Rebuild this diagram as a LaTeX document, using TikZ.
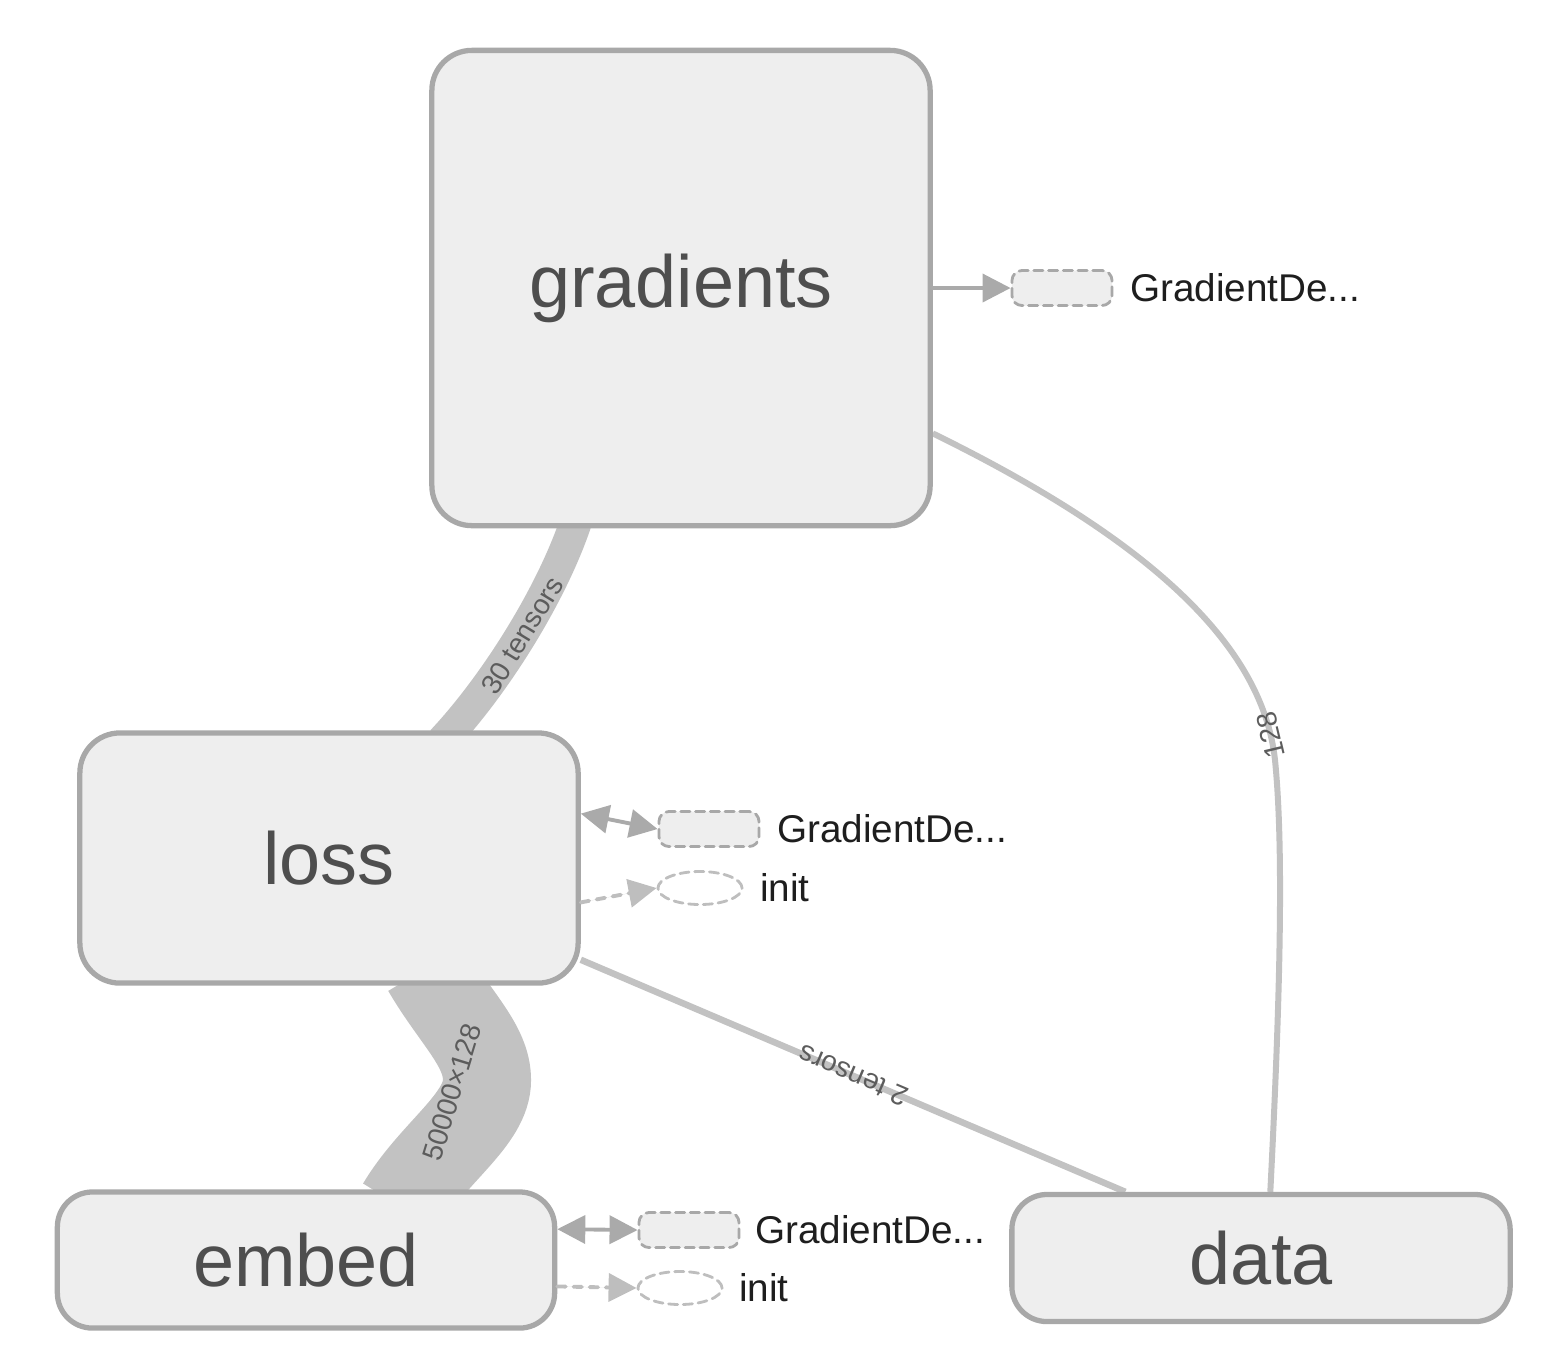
\documentclass[tikz,border=0pt]{standalone}
\usepackage{fontspec}
\setmainfont{Liberation Sans}
\usetikzlibrary{positioning,arrows.meta,backgrounds,shapes.geometric}

\definecolor{boxfill}{RGB}{238,238,238}
\definecolor{boxline}{RGB}{168,168,168}
\definecolor{flowgray}{RGB}{194,194,194}
\definecolor{tipgray}{RGB}{170,170,170}
\definecolor{initgray}{RGB}{190,190,190}
\definecolor{textgray}{RGB}{78,78,78}
\definecolor{edgetext}{RGB}{92,92,92}
\definecolor{auxtext}{RGB}{30,30,30}

\tikzset{
  group/.style={draw=boxline, fill=boxfill, line width=1.5pt, rounded corners=0.4cm,
    inner sep=0pt, text=textgray, font=\fontsize{21}{24}\selectfont},
  aux/.style={draw=boxline, fill=boxfill, dash pattern=on 2.6pt off 1.6pt, line width=0.8pt,
    rounded corners=0.1cm, minimum width=1cm, minimum height=0.35cm, inner sep=0pt},
  auxinit/.style={ellipse, draw=initgray, dash pattern=on 2.6pt off 1.6pt, line width=0.8pt,
    minimum width=0.84cm, minimum height=0.33cm, inner sep=0pt},
  auxlabel/.style={inner sep=0pt, text=auxtext, font=\fontsize{11}{13}\selectfont},
  flow/.style={draw=flowgray, line cap=butt},
  edgelabel/.style={inner sep=0pt, text=edgetext, font=\fontsize{8}{9}\selectfont},
  ctrl/.style={draw=tipgray, fill=tipgray, line width=1.1pt},
  ctrlinit/.style={draw=initgray, fill=initgray, line width=1.1pt, dash pattern=on 2.4pt off 2.2pt, ->}
}

\begin{document}
\begin{tikzpicture}[x=0.01cm, y=-0.01cm, line cap=round, line join=round,
  >={Triangle[length=0.28cm,width=0.28cm]}]
\useasboundingbox (0,0) rectangle (1542,1350);

% группы графа
\node[group, minimum width=4.98cm, minimum height=4.75cm] (gradients) at (681,288) {gradients};
\node[group, minimum width=4.98cm, minimum height=2.5cm] (loss) at (329,858) {loss};
\node[group, minimum width=4.97cm, minimum height=1.36cm, rounded corners=0.35cm] (embed) at (306,1260) {embed};
\node[group, minimum width=4.98cm, minimum height=1.27cm, rounded corners=0.35cm] (data) at (1261,1258) {data};

% вспомогательные узлы справа
\node[aux] (gdGrad) at (1062,288) {};
\node[auxlabel, right=0.16cm of gdGrad] (gdGradText) {GradientDe...};
\node[aux] (gdLoss) at (709,829) {};
\node[auxlabel, right=0.16cm of gdLoss] (gdLossText) {GradientDe...};
\node[auxinit] (initLoss) at (700,888) {};
\node[auxlabel, right=0.16cm of initLoss] (initLossText) {init};
\node[aux] (gdEmbed) at (689,1230) {};
\node[auxlabel, right=0.14cm of gdEmbed] (gdEmbedText) {GradientDe...};
\node[auxinit] (initEmbed) at (680,1288) {};
\node[auxlabel, right=0.15cm of initEmbed] (initEmbedText) {init};

\draw[ctrl, ->] (gradients.east) -- (gdGrad.west);
\draw[ctrl, <->] (loss.10) -- (gdLoss.west);
\draw[ctrlinit] (loss.-10) -- (initLoss.west);
\draw[ctrl, <->] (embed.7) -- (gdEmbed.west);
\draw[ctrlinit] (embed.-6.5) -- (initEmbed.west);

% потоки данных
\begin{scope}[on background layer]
  \draw[flow, line width=0.32cm, shorten <=-0.15cm, shorten >=-0.15cm]
    (loss.46) .. controls (495,685) and (555,590) .. (gradients.-114)
    node[edgelabel, pos=0.5, sloped] (lblTensors) {30 tensors};
  \draw[flow, line width=0.88cm, shorten <=-0.2cm, shorten >=-0.2cm]
    (embed.34) .. controls (433,1152) and (487,1120) .. (487,1080)
    .. controls (487,1045) and (455,1018) .. (loss.-50);
  \node[edgelabel, rotate=73] (lblEmbed) at (452,1092) {50000×128};
  \draw[flow, line width=0.065cm]
    (data.154) -- (loss.-22)
    node[edgelabel, pos=0.5, sloped, allow upside down] (lblData) {2 tensors};
  \draw[flow, line width=0.06cm]
    (data.82) .. controls (1280,1000) and (1284,850) .. (1275,760)
    .. controls (1262,640) and (1140,535) .. (gradients.-30)
    node[edgelabel, pos=0.07, sloped, allow upside down] (lbl128) {128};
\end{scope}
\end{tikzpicture}
\end{document}
